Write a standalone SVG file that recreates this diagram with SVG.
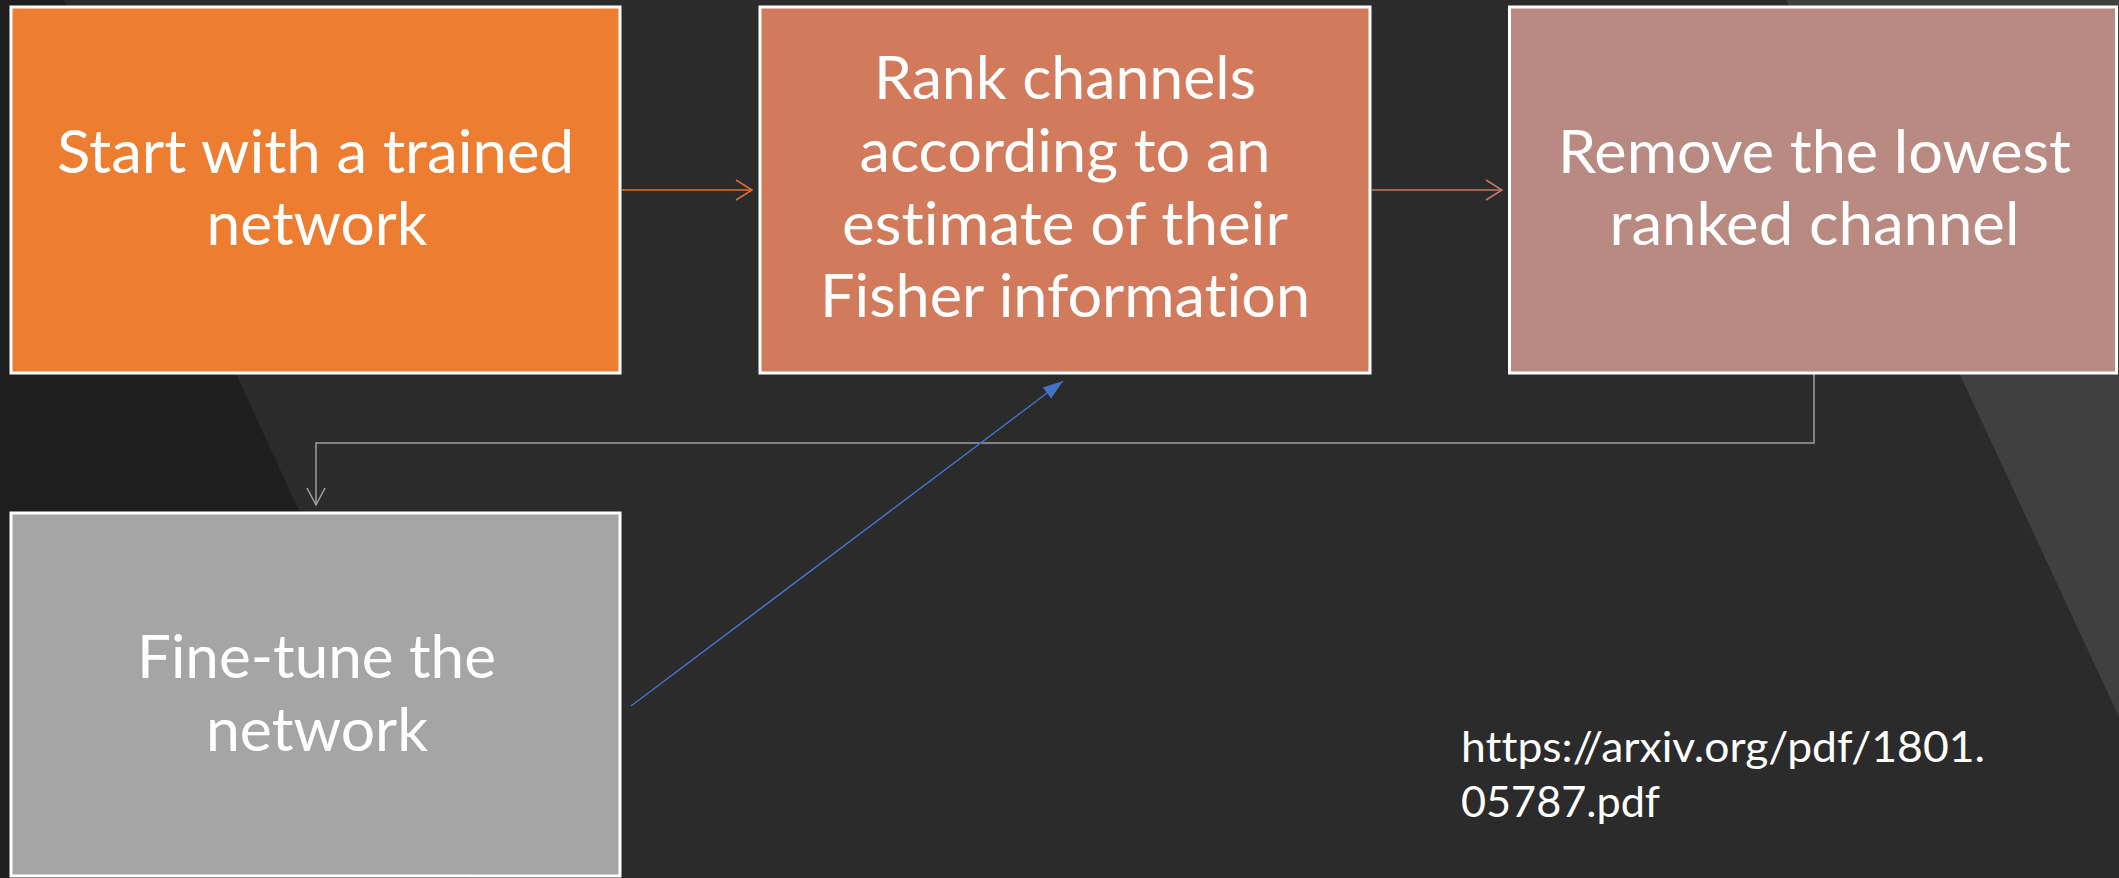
<svg xmlns="http://www.w3.org/2000/svg" width="2119" height="878" viewBox="0 0 2119 878">
<style>
.box{stroke:#ffffff;stroke-width:3}
.lbl{font-family:Lato,"Noto Sans","Liberation Sans",sans-serif;font-size:60px;fill:#ffffff;text-anchor:middle;font-variant-ligatures:none;font-feature-settings:"liga" 0,"clig" 0,"dlig" 0}
.url{font-family:Lato,"Noto Sans","Liberation Sans",sans-serif;font-size:43px;fill:#ffffff;font-variant-ligatures:none;font-feature-settings:"liga" 0,"clig" 0,"dlig" 0}
.conn{fill:none;stroke-width:1.5}
</style>
<defs>
<marker id="openOrange" markerUnits="userSpaceOnUse" markerWidth="24" markerHeight="24" refX="17" refY="11" orient="auto" overflow="visible">
<path d="M1,1 L17,11 L1,21" fill="none" stroke="#E07030" stroke-width="1.5"/>
</marker>
<marker id="openSalmon" markerUnits="userSpaceOnUse" markerWidth="24" markerHeight="24" refX="17" refY="11" orient="auto" overflow="visible">
<path d="M1,1 L17,11 L1,21" fill="none" stroke="#C77862" stroke-width="1.5"/>
</marker>
<marker id="openGray" markerUnits="userSpaceOnUse" markerWidth="24" markerHeight="24" refX="17" refY="10" orient="auto" overflow="visible">
<path d="M0,1 L17,10 L0,19" fill="none" stroke="#A0A0A0" stroke-width="1.5"/>
</marker>
<marker id="fillBlue" markerUnits="userSpaceOnUse" markerWidth="24" markerHeight="24" refX="20" refY="7" orient="auto" overflow="visible">
<path d="M0,0 L20,7 L0,14 Z" fill="#4472C4"/>
</marker>
</defs>
<g id="background">
<rect x="0" y="0" width="2119" height="878" fill="#2b2b2b"/>
<polygon points="0,0 64,0 468,878 0,878" fill="#1e1e1e"/>
<polygon points="1786,0 2119,0 2119,717" fill="#404040"/>
</g>
<g id="connectors">
<line class="conn" x1="622" y1="190" x2="752" y2="190" stroke="#E07030" marker-end="url(#openOrange)"/>
<line class="conn" x1="1372" y1="190" x2="1502" y2="190" stroke="#C77862" marker-end="url(#openSalmon)"/>
<polyline class="conn" points="1814,374 1814,443 316,443 316,505" stroke="#A0A0A0" marker-end="url(#openGray)"/>
<line class="conn" x1="631" y1="706" x2="1063" y2="381" stroke="#4472C4" marker-end="url(#fillBlue)"/>
</g>
<g id="node-start">
<rect class="box" x="11" y="7" width="609" height="366" fill="#ED7D31"/>
<text class="lbl" x="315.5" y="173" textLength="517" lengthAdjust="spacingAndGlyphs">Start with a trained</text>
<text class="lbl" x="317" y="245" textLength="221" lengthAdjust="spacingAndGlyphs">network</text>
</g>
<g id="node-rank">
<rect class="box" x="760" y="7" width="610" height="366" fill="#D17A5C"/>
<text class="lbl" x="1065" y="99" textLength="382" lengthAdjust="spacingAndGlyphs">Rank channels</text>
<text class="lbl" x="1065" y="172" textLength="411" lengthAdjust="spacingAndGlyphs">according to an</text>
<text class="lbl" x="1065" y="245" textLength="446" lengthAdjust="spacingAndGlyphs">estimate of their</text>
<text class="lbl" x="1065" y="317" textLength="490" lengthAdjust="spacingAndGlyphs">Fisher information</text>
</g>
<g id="node-remove">
<rect class="box" x="1509.5" y="7" width="607" height="366" fill="#B98A82"/>
<text class="lbl" x="1814.5" y="173" textLength="513" lengthAdjust="spacingAndGlyphs">Remove the lowest</text>
<text class="lbl" x="1814.5" y="245" textLength="410" lengthAdjust="spacingAndGlyphs">ranked channel</text>
</g>
<g id="node-finetune">
<rect class="box" x="11" y="513" width="609" height="363" fill="#A5A5A5"/>
<text class="lbl" x="316.5" y="678" textLength="359" lengthAdjust="spacingAndGlyphs">Fine-tune the</text>
<text class="lbl" x="317" y="751" textLength="222" lengthAdjust="spacingAndGlyphs">network</text>
</g>
<g id="reference">
<text class="url" x="1461" y="762" textLength="524" lengthAdjust="spacingAndGlyphs">https://arxiv.org/pdf/1801.</text>
<text class="url" x="1461" y="817" textLength="199" lengthAdjust="spacingAndGlyphs">05787.pdf</text>
</g>
</svg>
